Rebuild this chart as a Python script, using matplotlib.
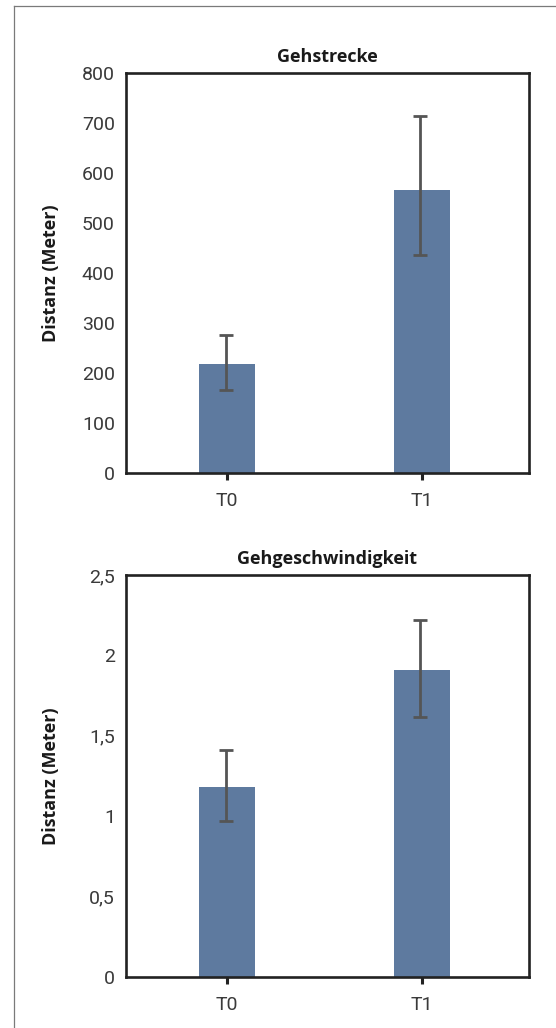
import matplotlib
matplotlib.use("Agg")
import matplotlib.pyplot as plt
from matplotlib.lines import Line2D
import numpy as np

# ─── data ────────────────────────────────────────────────────────────────────
groups = ["T0", "T1"]

strecke_mean = [217, 565]
strecke_low  = [165, 436]
strecke_high = [276, 713]
strecke_ticks = [0, 100, 200, 300, 400, 500, 600, 700, 800]
strecke_ticklabels = ["0", "100", "200", "300", "400", "500", "600", "700", "800"]

speed_mean = [1.18, 1.91]
speed_low  = [0.97, 1.62]
speed_high = [1.41, 2.22]
speed_ticks = [0, 0.5, 1, 1.5, 2, 2.5]
speed_ticklabels = ["0", "0,5", "1", "1,5", "2", "2,5"]

BAR_COLOR = "#5e7a9f"
ERR_COLOR = "#555555"
FRAME     = "#222222"
TICK_TXT  = "#3a3a3a"
TICK_FONT = ["Roboto", "DejaVu Sans"]
LABEL_FONT = ["Open Sans", "DejaVu Sans"]

W, H = 556, 1028
fig = plt.figure(figsize=(W / 100, H / 100), dpi=100)

# thin page border (left and top only visible)
fig.add_artist(Line2D([13.5 / W, 13.5 / W], [0, 1 - 6 / H], color="#7a7a7a", lw=0.9))
fig.add_artist(Line2D([13.5 / W, 1], [1 - 6 / H, 1 - 6 / H], color="#7a7a7a", lw=0.9))


def panel(rect, means, low, high, ticks, ticklabels, title):
    ax = fig.add_axes(rect)
    x = np.arange(len(groups))
    means = np.array(means)
    yerr = [means - np.array(low), np.array(high) - means]
    ax.bar(x, means, width=0.29, color=BAR_COLOR, zorder=2)
    ax.errorbar(x - 0.008, means, yerr=yerr, fmt="none", ecolor=ERR_COLOR,
                elinewidth=2.0, capsize=4.8, capthick=2.0, zorder=3)
    ax.set_xlim(-0.52, 1.55)
    ax.set_ylim(ticks[0], ticks[-1])
    ax.set_xticks(x)
    ax.set_xticklabels(groups, fontsize=14, color=TICK_TXT, family=TICK_FONT)
    ax.set_yticks(ticks)
    ax.set_yticklabels(ticklabels, fontsize=14, color=TICK_TXT, family=TICK_FONT)
    ax.tick_params(axis="y", length=0, pad=8)
    ax.tick_params(axis="x", length=5, width=2.2, color=FRAME, pad=9)
    for s in ax.spines.values():
        s.set_color(FRAME)
        s.set_linewidth(1.9)
    ax.set_title(title, fontsize=13, fontweight="bold", pad=8,
                 family=LABEL_FONT, color="#1a1a1a")
    ax.set_ylabel("Distanz (Meter)", fontsize=13, fontweight="bold",
                  family=LABEL_FONT, color="#1a1a1a")
    ax.yaxis.set_label_coords(-0.165, 0.5)
    return ax


panel([126 / W, 1 - 472.7 / H, 403 / W, 400 / H],
      strecke_mean, strecke_low, strecke_high,
      strecke_ticks, strecke_ticklabels, "Gehstrecke")
panel([126 / W, 1 - 977 / H, 403 / W, 402 / H],
      speed_mean, speed_low, speed_high,
      speed_ticks, speed_ticklabels, "Gehgeschwindigkeit")

fig.savefig("out.png", dpi=100)
plt.close()
